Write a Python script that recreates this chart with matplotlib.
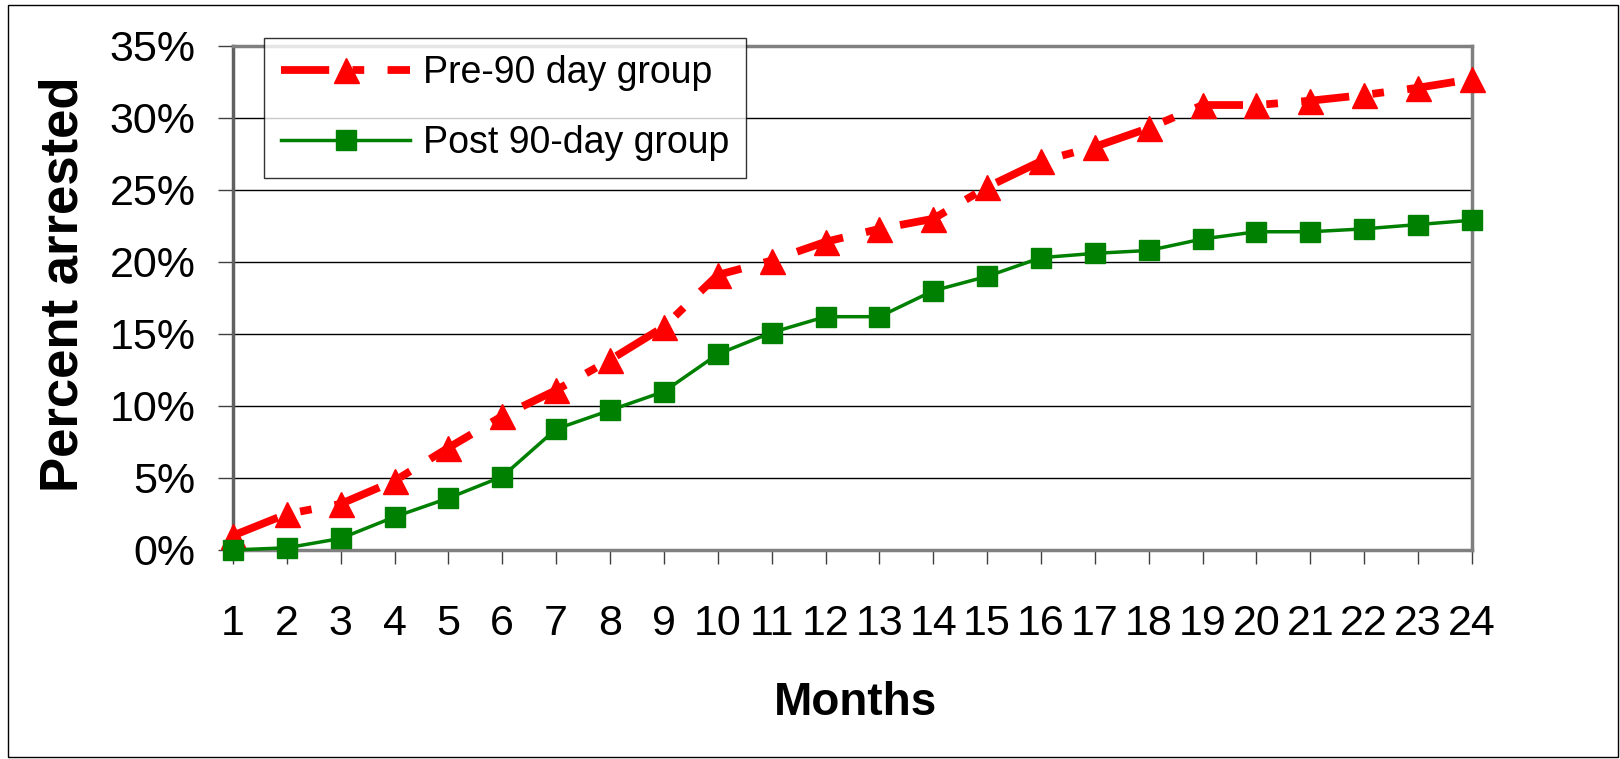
import matplotlib
matplotlib.use('Agg')
import matplotlib.pyplot as plt
from matplotlib.patches import Rectangle
from matplotlib.ticker import PercentFormatter

months = list(range(1, 25))
month_labels = [str(m) for m in months]

# percent arrested
pre_90 = [1.0, 2.5, 3.2, 4.8, 7.1, 9.3, 11.1, 13.2, 15.5, 19.1, 20.1, 21.4,
          22.3, 23.0, 25.2, 27.0, 28.0, 29.3, 30.9, 30.9, 31.2, 31.6, 32.1, 32.7]
post_90 = [0.0, 0.15, 0.8, 2.3, 3.6, 5.1, 8.4, 9.7, 11.0, 13.6, 15.1, 16.2,
           16.2, 18.0, 19.0, 20.3, 20.6, 20.8, 21.6, 22.1, 22.1, 22.3, 22.6, 22.9]

plt.rcParams['font.family'] = ['Liberation Sans', 'DejaVu Sans']

fig = plt.figure(figsize=(16.2, 7.59), dpi=100)
ax = fig.add_axes([0.1438, 0.2754, 0.7648, 0.664])

ax.plot(months, pre_90, color='#FF0000', lw=5.6, marker='^', ms=18,
        dashes=(6.2, 3.0, 1.5, 3.0), label='Pre-90 day group',
        clip_on=False, zorder=3)
ax.plot(months, post_90, color='#008000', lw=2.5, marker='s', ms=14.5,
        label='Post 90-day group', clip_on=False, zorder=4)

ax.set_xlim(1, 24)
ax.set_ylim(0, 35)
ax.set_yticks(range(0, 36, 5))
ax.yaxis.set_major_formatter(PercentFormatter(decimals=0))
ax.set_xticks(months)
ax.set_xticklabels(month_labels)

ax.grid(axis='y', color='black', lw=1)
ax.set_axisbelow(True)
for s in ax.spines.values():
    s.set_color('#808080')
    s.set_linewidth(2.5)
ax.spines['left'].set_color('#606060')
ax.axhline(0, color='black', lw=1, zorder=2)

ax.tick_params(axis='y', direction='out', length=11, width=1, color='#404040',
               labelsize=31, pad=16)
ax.tick_params(axis='x', direction='out', length=10, width=1, color='#404040',
               labelsize=31, pad=29)

fig.text(0.0395, 0.626, 'Percent arrested', rotation=90, fontsize=38,
         fontweight='bold', ha='center', va='center')
fig.text(0.528, 1 - 703 / 759, 'Months', fontsize=33, fontweight='bold',
         ha='center', va='center')

leg = ax.legend(loc='upper left', bbox_to_anchor=(264 / 1620, 1 - 38 / 759),
                bbox_transform=fig.transFigure, fontsize=27, frameon=True,
                fancybox=False, borderaxespad=0, handlelength=3.45,
                handletextpad=0.33, labelspacing=0.9, borderpad=0.45)
leg.get_frame().set_edgecolor('black')
leg.get_frame().set_linewidth(1)
leg.set_zorder(10)

fig.patches.append(Rectangle((8 / 1620, 1 - 757 / 759), 1610 / 1620, 752 / 759,
                             transform=fig.transFigure, fill=False,
                             edgecolor='black', lw=1))

fig.savefig('out.png', dpi=100)
